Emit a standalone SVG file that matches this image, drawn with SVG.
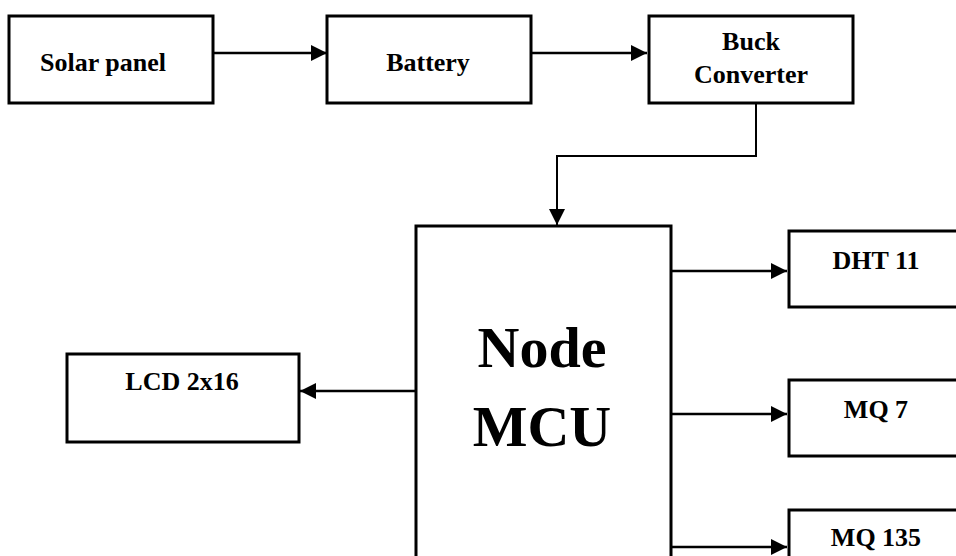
<svg xmlns="http://www.w3.org/2000/svg" width="956" height="556" viewBox="0 0 956 556">
<style>
.box{fill:#fff;stroke:#000;stroke-width:3}
.lbl{font-family:"Liberation Serif","Times New Roman",serif;font-weight:bold;font-size:26px;fill:#000;text-anchor:middle}
.big{font-size:58px}
.con{fill:none;stroke:#000;stroke-width:2.5}
</style>
<defs>
<marker id="ah" markerUnits="userSpaceOnUse" markerWidth="18" markerHeight="18" refX="16" refY="8" orient="auto">
<path d="M0,0 L16,8 L0,16 z" fill="#000"/>
</marker>
</defs>
<rect width="956" height="556" fill="#fff"/>
<g id="solar"><rect class="box" x="9" y="16" width="204" height="87"/><text class="lbl" x="103" y="71">Solar panel</text></g>
<g id="battery"><rect class="box" x="327" y="16" width="204" height="87"/><text class="lbl" x="428" y="71">Battery</text></g>
<g id="buck"><rect class="box" x="649" y="16" width="204" height="87"/><text class="lbl" x="751" y="50">Buck</text><text class="lbl" x="751" y="83">Converter</text></g>
<g id="mcu"><rect class="box" x="416" y="226" width="255" height="360"/><text class="lbl big" x="542" y="367">Node</text><text class="lbl big" x="542" y="446">MCU</text></g>
<g id="dht"><rect class="box" x="789" y="231" width="200" height="76"/><text class="lbl" x="876" y="269">DHT 11</text></g>
<g id="mq7"><rect class="box" x="789" y="380" width="200" height="76"/><text class="lbl" x="876" y="418">MQ 7</text></g>
<g id="mq135"><rect class="box" x="789" y="510" width="200" height="76"/><text class="lbl" x="876" y="546">MQ 135</text></g>
<g id="lcd"><rect class="box" x="67" y="354" width="232" height="88"/><text class="lbl" x="182" y="390">LCD 2x16</text></g>
<g id="connectors">
<line class="con" x1="213" y1="53" x2="327" y2="53" marker-end="url(#ah)"/>
<line class="con" x1="531" y1="53" x2="647" y2="53" marker-end="url(#ah)"/>
<polyline class="con" points="756,103 756,156 557,156 557,225" marker-end="url(#ah)" style="stroke-width:2"/>
<line class="con" x1="671" y1="271" x2="787" y2="271" marker-end="url(#ah)"/>
<line class="con" x1="671" y1="414" x2="787" y2="414" marker-end="url(#ah)"/>
<line class="con" x1="671" y1="547" x2="787" y2="547" marker-end="url(#ah)"/>
<line class="con" x1="416" y1="391" x2="300" y2="391" marker-end="url(#ah)"/>
</g>
</svg>
